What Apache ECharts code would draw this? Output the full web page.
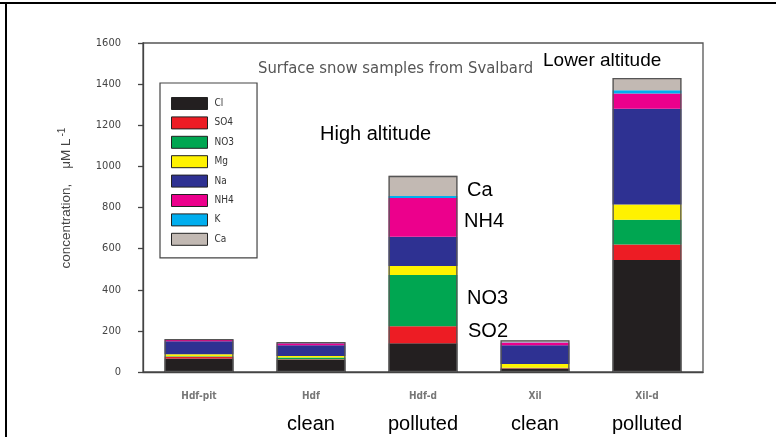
<!DOCTYPE html>
<html>
<head>
<meta charset="utf-8">
<script src="https://cdn.jsdelivr.net/npm/echarts@6/dist/echarts.min.js"></script>
<style>html,body{margin:0;padding:0;background:#fff;}#c{width:776px;height:437px;}</style>
</head>
<body>
<div id="c"></div>
<script>
const categories = ['Hdf-pit', 'Hdf', 'Hdf-d', 'Xil', 'Xil-d'];
const conditionLabels = ['', 'clean', 'polluted', 'clean', 'polluted'];
const Cl  = [66, 60, 140, 15, 545];
const SO4 = [8, 2, 82, 3, 75];
const NO3 = [2, 8, 250, 3, 120];
const Mg  = [10, 8, 44, 18, 75];
const Na  = [63, 52, 142, 91, 465];
const NH4 = [8, 10, 188, 13, 75];
const K   = [1, 1, 10, 2, 15];
const Ca  = [3, 5, 98, 10, 60];
const yTicks = [0, 200, 400, 600, 800, 1000, 1200, 1400, 1600];

const seriesDefs = [
  ['Cl', Cl, '#231f20'],
  ['SO4', SO4, '#ed1c24'],
  ['NO3', NO3, '#00a651'],
  ['Mg', Mg, '#fff200'],
  ['Na', Na, '#2e3192'],
  ['NH4', NH4, '#ec008c'],
  ['K', K, '#00aeef'],
  ['Ca', Ca, '#c2b9b3']
];
const totals = categories.map((_, i) => seriesDefs.reduce((s, d) => s + d[1][i], 0));

const chart = echarts.init(document.getElementById('c'));
const annFont = 'Liberation Sans, Arial, sans-serif';
const narrow = '"Liberation Sans Narrow", "DejaVu Sans Condensed", Arial, sans-serif';

const series = seriesDefs.map(d => ({
  name: d[0], type: 'bar', stack: 'all', data: d[1], barWidth: 69,
  itemStyle: { color: d[2], borderWidth: 0 }, silent: true
}));
series.push({
  name: 'frame', type: 'bar', data: totals, barWidth: 69, barGap: '-100%', z: 5, silent: true,
  itemStyle: { color: 'rgba(0,0,0,0)', borderColor: '#555', borderWidth: 1.3 }
});

chart.setOption({
  animation: false,
  backgroundColor: '#fff',
  grid: { left: 143, right: 73, top: 43, bottom: 65, show: true, borderColor: '#555', borderWidth: 1.3, containLabel: false },
  title: {
    text: 'Surface snow samples from Svalbard', left: 253, top: 55,
    textStyle: { fontFamily: narrow, fontSize: 16.5, fontWeight: 'normal', color: '#555' }
  },
  legend: {
    data: seriesDefs.map(d => d[0]), orient: 'vertical', left: 160, top: 83,
    padding: [14, 23, 12, 11], itemWidth: 36, itemHeight: 12, itemGap: 6.4,
    borderColor: '#444', borderWidth: 1.2, icon: 'rect',
    itemStyle: { borderColor: '#222', borderWidth: 1 },
    textStyle: { fontFamily: narrow, fontSize: 10, color: '#333', padding: [0, 0, 0, 2] },
    selectedMode: false
  },
  xAxis: [{
    type: 'category', data: categories, position: 'bottom',
    axisLine: { lineStyle: { color: '#444', width: 1.3 } },
    axisTick: { alignWithLabel: true, length: 6, lineStyle: { color: '#444', width: 1.3 } },
    axisLabel: { margin: 19, fontFamily: narrow, fontSize: 10, color: '#777', fontWeight: 'bold' }
  }, {
    type: 'category', data: conditionLabels, position: 'bottom', offset: 0,
    axisLine: { show: false }, axisTick: { show: false },
    axisLabel: { margin: 42, fontFamily: annFont, fontSize: 20, color: '#000' }
  }],
  yAxis: {
    type: 'value', min: 0, max: 1600, interval: 200,
    axisLine: { show: true, lineStyle: { color: '#444', width: 1.3 } },
    axisTick: { show: true, length: 5, lineStyle: { color: '#444', width: 1.3 } },
    splitLine: { show: false },
    axisLabel: { margin: 22, fontFamily: narrow, fontSize: 11, color: '#444',
      formatter: v => yTicks.includes(v) ? String(v) : '' },
    name: '     concentration,    \u03bcM L{sup|-1}', nameLocation: 'middle', nameGap: 67,
    nameTextStyle: { fontFamily: annFont, fontSize: 13.5, color: '#444',
      rich: { sup: { fontSize: 10, verticalAlign: 'top', padding: [0, 0, 9, 2], color: '#444', fontFamily: annFont } } }
  },
  graphic: [
    { type: 'rect', shape: { x: 0, y: 2, width: 776, height: 2 }, style: { fill: '#000' }, silent: true },
    { type: 'rect', shape: { x: 5, y: 2, width: 2, height: 435 }, style: { fill: '#000' }, silent: true },
    { type: 'text', left: 320, top: 124, style: { text: 'High altitude', font: '20px ' + annFont, fill: '#000' } },
    { type: 'text', left: 543, top: 51, style: { text: 'Lower altitude', font: '19px ' + annFont, fill: '#000' } },
    { type: 'text', left: 467, top: 180, style: { text: 'Ca', font: '20px ' + annFont, fill: '#000' } },
    { type: 'text', left: 464, top: 211, style: { text: 'NH4', font: '20px ' + annFont, fill: '#000' } },
    { type: 'text', left: 467, top: 288, style: { text: 'NO3', font: '20px ' + annFont, fill: '#000' } },
    { type: 'text', left: 468, top: 321, style: { text: 'SO2', font: '20px ' + annFont, fill: '#000' } }
  ],
  series: series
});
</script>
</body>
</html>
